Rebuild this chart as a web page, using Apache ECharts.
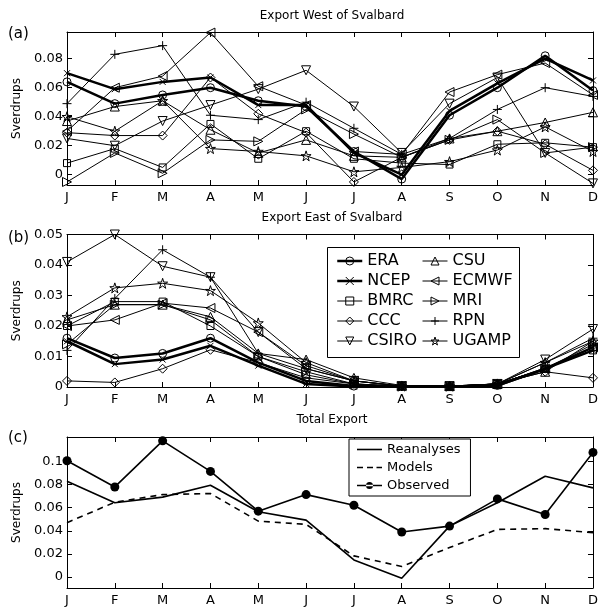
<!DOCTYPE html>
<html>
<head>
<meta charset="utf-8">
<script src="https://cdn.jsdelivr.net/npm/echarts@6/dist/echarts.min.js"></script>
<style>
html, body { margin: 0; padding: 0; background: #fff; }
#chart { width: 601px; height: 607px; }
</style>
</head>
<body>
<div id="chart"></div>
<script>
const monthNames = ["Jan", "Feb", "Mar", "Apr", "May", "Jun", "Jul", "Aug", "Sep", "Oct", "Nov", "Dec"];

// (a) Export West of Svalbard
const westERA   = [0.064, 0.049, 0.055, 0.060, 0.051, 0.047, 0.016, -0.003, 0.041, 0.060, 0.082, 0.058];
const westNCEP  = [0.070, 0.059, 0.064, 0.067, 0.048, 0.048, 0.015, 0.000, 0.044, 0.063, 0.080, 0.065];
const westBMRC  = [0.008, 0.018, 0.005, 0.035, 0.011, 0.030, 0.011, 0.008, 0.007, 0.021, 0.022, 0.019];
const westCCC   = [0.029, 0.027, 0.027, 0.067, 0.042, 0.029, -0.005, 0.012, 0.024, 0.030, 0.021, 0.003];
const westCSIRO = [0.025, 0.020, 0.037, 0.048, 0.059, 0.072, 0.047, 0.015, 0.049, 0.067, 0.015, -0.006];
const westCSU   = [0.037, 0.047, 0.051, 0.031, 0.015, 0.024, 0.013, 0.012, 0.025, 0.030, 0.036, 0.043];
const westECMWF = [0.030, 0.060, 0.068, 0.098, 0.061, 0.048, 0.016, 0.014, 0.057, 0.069, 0.077, 0.055];
const westMRI   = [-0.005, 0.015, 0.001, 0.024, 0.023, 0.045, 0.028, 0.012, 0.024, 0.038, 0.015, 0.019];
const westRPN   = [0.049, 0.083, 0.089, 0.041, 0.038, 0.050, 0.032, 0.014, 0.025, 0.045, 0.060, 0.054];
const westUGAMP = [0.040, 0.030, 0.051, 0.018, 0.016, 0.013, 0.002, 0.005, 0.009, 0.017, 0.033, 0.016];

// (b) Export East of Svalbard
const eastERA   = [0.016, 0.0095, 0.011, 0.016, 0.008, 0.002, 0.0003, 0.0002, 0.0002, 0.0005, 0.006, 0.013];
const eastNCEP  = [0.015, 0.0075, 0.009, 0.0135, 0.007, 0.001, 0.0002, 0.0001, 0.0001, 0.0005, 0.006, 0.012];
const eastBMRC  = [0.020, 0.028, 0.028, 0.020, 0.010, 0.004, 0.001, 0.0003, 0.0002, 0.001, 0.006, 0.012];
const eastCCC   = [0.002, 0.0015, 0.006, 0.0122, 0.008, 0.003, 0.001, 0.0002, 0.0002, 0.001, 0.005, 0.003];
const eastCSIRO = [0.041, 0.050, 0.0396, 0.036, 0.018, 0.006, 0.002, 0.0003, 0.0003, 0.001, 0.009, 0.019];
const eastCSU   = [0.022, 0.027, 0.027, 0.023, 0.011, 0.009, 0.003, 0.0005, 0.0003, 0.001, 0.005, 0.015];
const eastECMWF = [0.020, 0.022, 0.0275, 0.0259, 0.018, 0.007, 0.002, 0.0003, 0.0002, 0.001, 0.006, 0.013];
const eastMRI   = [0.014, 0.027, 0.027, 0.022, 0.010, 0.005, 0.001, 0.0002, 0.0002, 0.001, 0.006, 0.014];
const eastRPN   = [0.012, 0.029, 0.045, 0.036, 0.011, 0.006, 0.002, 0.0003, 0.0002, 0.001, 0.008, 0.016];
const eastUGAMP = [0.023, 0.0325, 0.034, 0.0316, 0.021, 0.008, 0.002, 0.0003, 0.0003, 0.001, 0.008, 0.015];

// (c) Total Export
const totalReanalyses = [0.0827, 0.0641, 0.069, 0.0792, 0.0564, 0.0492, 0.0148, -0.001, 0.044, 0.0641, 0.087, 0.077];
const totalModels     = [0.047, 0.0646, 0.0712, 0.0721, 0.0483, 0.0455, 0.0183, 0.0092, 0.0255, 0.0412, 0.0418, 0.0384];
const totalObserved   = [0.1004, 0.0778, 0.1176, 0.0912, 0.0569, 0.0712, 0.062, 0.0389, 0.044, 0.0675, 0.054, 0.1076];

const ticksWest  = [0, 0.02, 0.04, 0.06, 0.08];
const ticksEast  = [0, 0.01, 0.02, 0.03, 0.04, 0.05];
const ticksTotal = [0, 0.02, 0.04, 0.06, 0.08, 0.1];

const FONT = "DejaVu Sans";
const SYM_X = "path://M0,0L10,10M10,0L0,10";
const SYM_PLUS = "path://M5,0L5,10M0,5L10,5";
const SYM_STAR = "path://M50,0L61.23,34.55L97.55,34.55L68.17,55.9L79.39,90.45L50,69.1L20.61,90.45L31.83,55.9L2.45,34.55L38.77,34.55Z";

const models = [
    { name: "ERA",   west: westERA,   east: eastERA,   symbol: "circle",   size: 8, width: 2.5 },
    { name: "NCEP",  west: westNCEP,  east: eastNCEP,  symbol: SYM_X,      size: 6, width: 2.5 },
    { name: "BMRC",  west: westBMRC,  east: eastBMRC,  symbol: "rect",     size: 7 },
    { name: "CCC",   west: westCCC,   east: eastCCC,   symbol: "diamond",  size: 9 },
    { name: "CSIRO", west: westCSIRO, east: eastCSIRO, symbol: "triangle", size: 9, rotate: 180 },
    { name: "CSU",   west: westCSU,   east: eastCSU,   symbol: "triangle", size: 9 },
    { name: "ECMWF", west: westECMWF, east: eastECMWF, symbol: "triangle", size: 9, rotate: 90 },
    { name: "MRI",   west: westMRI,   east: eastMRI,   symbol: "triangle", size: 9, rotate: -90 },
    { name: "RPN",   west: westRPN,   east: eastRPN,   symbol: SYM_PLUS,   size: 9 },
    { name: "UGAMP", west: westUGAMP, east: eastUGAMP, symbol: SYM_STAR,   size: 10 }
];

const grids = [
    { left: 67, right: 3, top: 32, height: 153 },
    { left: 67, right: 3, top: 234.5, height: 152.5 },
    { left: 67, right: 3, top: 437, height: 152 }
];

function fmt(v) {
    return String(Math.round(v * 100) / 100);
}

function xAxes(g) {
    const base = {
        gridIndex: g,
        type: "category",
        data: monthNames,
        boundaryGap: false,
        axisLine: { onZero: false, lineStyle: { color: "#000", width: 1 } },
        axisTick: { inside: true, length: 5, interval: 0, lineStyle: { color: "#000" } },
        splitLine: { show: false }
    };
    return [
        Object.assign({}, base, {
            position: "bottom",
            axisLabel: { interval: 0, margin: 6, color: "#000", fontFamily: FONT, fontSize: 13, formatter: v => v[0] }
        }),
        Object.assign({}, base, { position: "top", axisLabel: { show: false } })
    ];
}

function yAxes(g, min, max, ticks) {
    const base = {
        gridIndex: g,
        type: "value",
        min: min,
        max: max,
        axisLine: { show: true, onZero: false, lineStyle: { color: "#000", width: 1 } },
        axisTick: { show: true, inside: true, length: 5, customValues: ticks, lineStyle: { color: "#000" } },
        splitLine: { show: false }
    };
    return [
        Object.assign({}, base, {
            position: "left",
            name: "Sverdrups",
            nameLocation: "middle",
            nameGap: 33,
            nameTextStyle: { color: "#000", fontFamily: FONT, fontSize: 12 },
            axisLabel: { customValues: ticks, margin: 4, color: "#000", fontFamily: FONT, fontSize: 13, formatter: fmt }
        }),
        Object.assign({}, base, { position: "right", axisLabel: { show: false } })
    ];
}

function modelSeries(m, data, g) {
    return {
        name: m.name,
        type: "line",
        data: data,
        xAxisIndex: g * 2,
        yAxisIndex: g * 2,
        symbol: m.symbol,
        symbolSize: m.size,
        symbolRotate: m.rotate || 0,
        showAllSymbol: true,
        lineStyle: { color: "#000", width: m.width || 1 },
        itemStyle: { color: "rgba(0,0,0,0)", borderColor: "#000", borderWidth: 1 },
        emphasis: { disabled: true }
    };
}

const series = [];
models.forEach(m => series.push(modelSeries(m, m.west, 0)));
models.forEach(m => series.push(modelSeries(m, m.east, 1)));

series.push({
    name: "Reanalyses", type: "line", data: totalReanalyses, xAxisIndex: 4, yAxisIndex: 4,
    symbol: "none", lineStyle: { color: "#000", width: 1.6 }, itemStyle: { color: "#000" }
});
series.push({
    name: "Models", type: "line", data: totalModels, xAxisIndex: 4, yAxisIndex: 4,
    symbol: "none", lineStyle: { color: "#000", width: 1.6, type: [6, 5] }, itemStyle: { color: "#000" }
});
series.push({
    name: "Observed", type: "line", data: totalObserved, xAxisIndex: 4, yAxisIndex: 4,
    symbol: "circle", symbolSize: 9, lineStyle: { color: "#000", width: 1.6 }, itemStyle: { color: "#000" }
});

function legendCol(names, left) {
    const items = names.map(n => {
        const m = models.find(mm => mm.name === n);
        return { name: n, lineStyle: { color: "#000", width: m.width || 1 } };
    });
    return {
        data: items,
        orient: "vertical",
        left: left,
        top: 253,
        padding: 0,
        itemWidth: 25,
        itemHeight: 10,
        itemGap: 4,
        selectedMode: false,
        itemStyle: { color: "rgba(0,0,0,0)", borderColor: "#000", borderWidth: 1 },
        textStyle: { color: "#000", fontFamily: FONT, fontSize: 16, lineHeight: 16 }
    };
}

function label(text, x, y, size, align) {
    return {
        type: "text",
        z: 10,
        x: x,
        y: y,
        style: { text: text, fill: "#000", font: size + "px '" + FONT + "'", align: align, verticalAlign: "middle" }
    };
}

const chart = echarts.init(document.getElementById("chart"));
chart.setOption({
    animation: false,
    backgroundColor: "#fff",
    grid: grids,
    xAxis: [].concat(xAxes(0), xAxes(1), xAxes(2)),
    yAxis: [].concat(
        yAxes(0, -0.0071, 0.0984, ticksWest),
        yAxes(1, 0, 0.05, ticksEast),
        yAxes(2, -0.0094, 0.1209, ticksTotal)
    ),
    legend: [
        legendCol(["ERA", "NCEP", "BMRC", "CCC", "CSIRO"], 336),
        legendCol(["CSU", "ECMWF", "MRI", "RPN", "UGAMP"], 422),
        {
            data: [
                { name: "Reanalyses", icon: "path://M0,0h25v1.6h-25z" },
                { name: "Models", icon: "path://M0,0h6v1.6h-6zM10,0h6v1.6h-6zM19.5,0h5.5v1.6h-5.5z" },
                { name: "Observed", icon: "path://M0,3h25v1.6h-25zM9,3.8a3.5,3.5 0 1,0 7,0a3.5,3.5 0 1,0 -7,0z" }
            ],
            orient: "vertical",
            left: 349,
            top: 439,
            padding: [4, 10, 4, 8],
            itemWidth: 25,
            itemHeight: 12,
            itemGap: 5,
            selectedMode: false,
            borderColor: "#000",
            borderWidth: 1,
            backgroundColor: "#fff",
            textStyle: { color: "#000", fontFamily: FONT, fontSize: 13, lineHeight: 13 }
        }
    ],
    graphic: [
        {
            type: "rect",
            z: 3,
            shape: { x: 327.5, y: 247.5, width: 192, height: 110 },
            style: { fill: "#fff", stroke: "#000", lineWidth: 1 }
        },
        label("Export West of Svalbard", 332, 16, 12, "center"),
        label("Export East of Svalbard", 332, 218, 12, "center"),
        label("Total Export", 332, 420, 12, "center"),
        label("(a)", 8, 34, 15, "left"),
        label("(b)", 8, 238, 15, "left"),
        label("(c)", 8, 438, 15, "left")
    ],
    series: series
});
</script>
</body>
</html>
